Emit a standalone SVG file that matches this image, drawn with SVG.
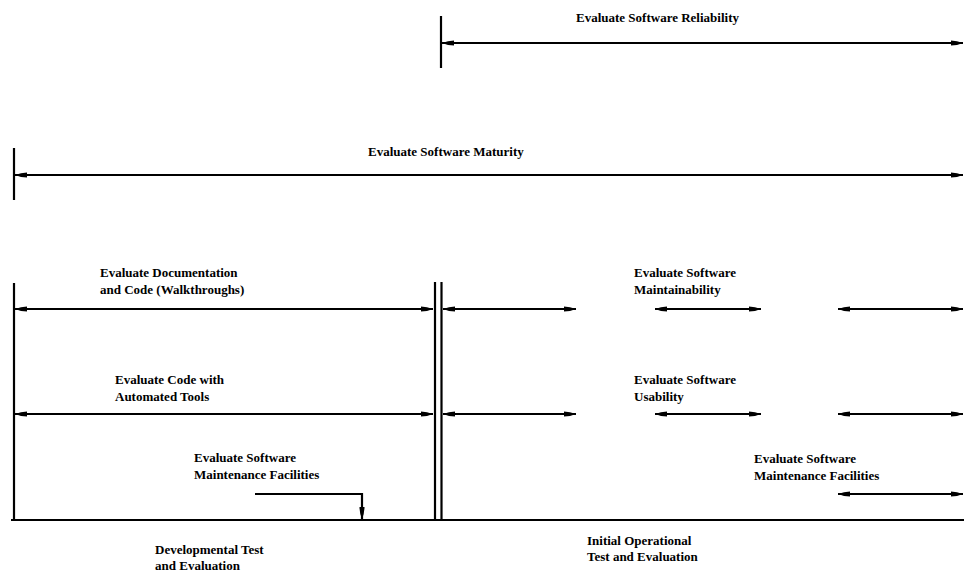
<svg xmlns="http://www.w3.org/2000/svg" width="964" height="573" viewBox="0 0 964 573">
<style>
.t{font-family:"Liberation Serif","Times New Roman",serif;font-size:13px;font-weight:bold;fill:#000}
.ln{stroke:#000;stroke-width:2.2;fill:none}
.ar{stroke:#000;stroke-width:2.2;fill:none;marker-start:url(#hs);marker-end:url(#he)}
.are{stroke:#000;stroke-width:2.2;fill:none;marker-end:url(#he)}
</style>
<defs>
<marker id="he" viewBox="0 0 12 7" refX="12" refY="3.5" markerWidth="12" markerHeight="7" markerUnits="userSpaceOnUse" orient="auto">
<path d="M0,1 Q6,1 12,3.5 Q6,6 0,6 Z" fill="#000"/>
</marker>
<marker id="hs" viewBox="0 0 12 7" refX="0" refY="3.5" markerWidth="12" markerHeight="7" markerUnits="userSpaceOnUse" orient="auto">
<path d="M12,1 Q6,1 0,3.5 Q6,6 12,6 Z" fill="#000"/>
</marker>
</defs>
<rect width="964" height="573" fill="#fff"/>
<g id="connectors">
<line class="ln" x1="441" y1="16" x2="441" y2="68"/>
<line class="ar" x1="442" y1="43" x2="963" y2="43"/>
<line class="ln" x1="14" y1="148" x2="14" y2="200"/>
<line class="ar" x1="15" y1="175" x2="963" y2="175"/>
<line class="ln" x1="14" y1="283" x2="14" y2="520"/>
<line class="ln" x1="435" y1="282" x2="435" y2="520"/>
<line class="ln" x1="441.5" y1="282" x2="441.5" y2="520"/>
<line class="ln" x1="11" y1="520" x2="964" y2="520"/>
<line class="ar" x1="15" y1="309" x2="433" y2="309"/>
<line class="ar" x1="443" y1="309" x2="576" y2="309"/>
<line class="ar" x1="655" y1="309" x2="761" y2="309"/>
<line class="ar" x1="838" y1="309" x2="963" y2="309"/>
<line class="ar" x1="15" y1="414" x2="433" y2="414"/>
<line class="ar" x1="443" y1="414" x2="576" y2="414"/>
<line class="ar" x1="655" y1="414" x2="761" y2="414"/>
<line class="ar" x1="838" y1="414" x2="963" y2="414"/>
<line class="ar" x1="838" y1="494" x2="963" y2="494"/>
<path class="are" d="M255,494 H362 V519"/>
</g>
<g id="reliability"><text class="t" x="576" y="22">Evaluate Software Reliability</text></g>
<g id="maturity"><text class="t" x="368" y="156">Evaluate Software Maturity</text></g>
<g id="walkthroughs"><text class="t" x="100" y="277">Evaluate Documentation</text><text class="t" x="100" y="294">and Code (Walkthroughs)</text></g>
<g id="automated"><text class="t" x="115" y="384">Evaluate Code with</text><text class="t" x="115" y="401">Automated Tools</text></g>
<g id="maintainability"><text class="t" x="634" y="277">Evaluate Software</text><text class="t" x="634" y="294">Maintainability</text></g>
<g id="usability"><text class="t" x="634" y="384">Evaluate Software</text><text class="t" x="634" y="401">Usability</text></g>
<g id="facilities-dte"><text class="t" x="194" y="462">Evaluate Software</text><text class="t" x="194" y="479">Maintenance Facilities</text></g>
<g id="facilities-iote"><text class="t" x="754" y="463">Evaluate Software</text><text class="t" x="754" y="480">Maintenance Facilities</text></g>
<g id="dte"><text class="t" x="155" y="554">Developmental Test</text><text class="t" x="155" y="570">and Evaluation</text></g>
<g id="iote"><text class="t" x="587" y="545">Initial Operational</text><text class="t" x="587" y="561">Test and Evaluation</text></g>
</svg>
